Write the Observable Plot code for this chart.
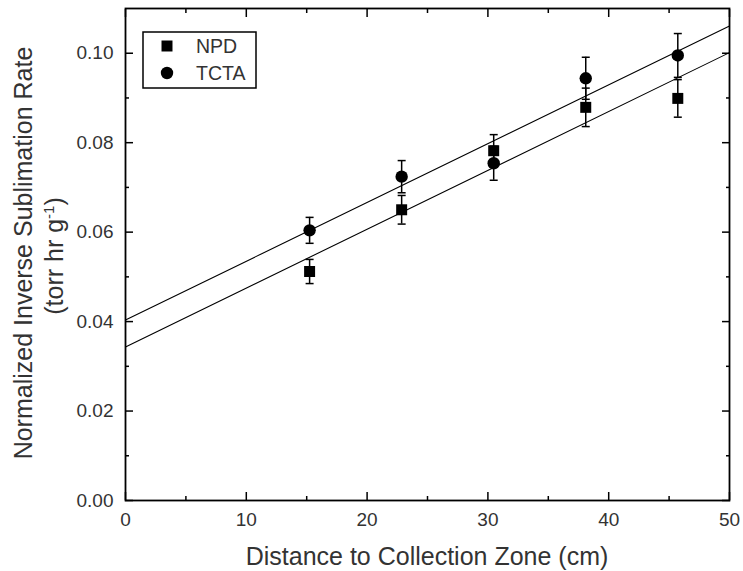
<!DOCTYPE html>
<html>
<head>
<meta charset="utf-8">
<script src="https://cdn.jsdelivr.net/npm/d3@7"></script>
<script src="https://cdn.jsdelivr.net/npm/@observablehq/plot@0.6"></script>
<style>
  html, body { margin: 0; padding: 0; background: #fff; }
  #chart { width: 743px; height: 571px; }
  svg { font-family: "Liberation Sans", Arial, sans-serif; }
</style>
</head>
<body>
<div id="chart"></div>
<script>
// ---- data ----
const distance = [15.24, 22.86, 30.48, 38.1, 45.72];          // cm
const npd      = [0.0512, 0.0650, 0.0782, 0.0879, 0.0899];
const npdErr   = [0.0027, 0.0032, 0.0036, 0.0043, 0.0042];
const tcta     = [0.0604, 0.0724, 0.0754, 0.0944, 0.0995];
const tctaErr  = [0.0029, 0.0036, 0.0038, 0.0047, 0.0049];
const seriesNames = ["NPD", "TCTA"];
const xMajorTicks = [0, 10, 20, 30, 40, 50];
const xMinorTicks = [5, 15, 25, 35, 45];
const yMajorTicks = [0, 0.02, 0.04, 0.06, 0.08, 0.10];
const yMinorTicks = [0.01, 0.03, 0.05, 0.07, 0.09];
const xLabel = "Distance to Collection Zone (cm)";
const yLabel1 = "Normalized Inverse Sublimation Rate";
const xDomain = [0, 50];
const yDomain = [0, 0.11];

// ---- build tables ----
const rows = [];
[[npd, npdErr, "NPD"], [tcta, tctaErr, "TCTA"]].forEach(([vals, errs, name]) => {
  vals.forEach((v, i) => rows.push({x: distance[i], y: v, lo: v - errs[i], hi: v + errs[i], s: name}));
});

// least-squares fit for each series, drawn over the full x range
function fit(xs, ys) {
  const mx = d3.mean(xs), my = d3.mean(ys);
  let sxy = 0, sxx = 0;
  xs.forEach((x, i) => { sxy += (x - mx) * (ys[i] - my); sxx += (x - mx) ** 2; });
  const m = sxy / sxx, b = my - m * mx;
  return xDomain.map(x => ({x, y: b + m * x}));
}
const fitRows = [
  ...fit(distance, npd).map(d => ({...d, s: "NPD"})),
  ...fit(distance, tcta).map(d => ({...d, s: "TCTA"}))
];

const capSymbol = {
  draw(ctx, size) {
    const r = Math.sqrt(size / Math.PI);
    ctx.moveTo(-r, 0);
    ctx.lineTo(r, 0);
  }
};

const fmt = d3.format(".2f");
const blank = () => "";
const tk = {tickFormat: blank, strokeWidth: 1.5, label: null};

const chart = Plot.plot({
  width: 743,
  height: 571,
  marginLeft: 125,
  marginRight: 14,
  marginTop: 8,
  marginBottom: 71,
  style: {fontFamily: "Liberation Sans, Arial, sans-serif", fontSize: "19px", color: "#000", background: "#fff"},
  x: {domain: xDomain},
  y: {domain: yDomain},
  marks: [
    // minor ticks (inward), all four sides
    Plot.axisX(xMinorTicks, {anchor: "bottom", tickSize: -4, ...tk}),
    Plot.axisX(xMinorTicks, {anchor: "top", tickSize: -4, ...tk}),
    Plot.axisY(yMinorTicks, {anchor: "left", tickSize: -4, ...tk}),
    Plot.axisY(yMinorTicks, {anchor: "right", tickSize: -4, ...tk}),
    // major ticks (inward)
    Plot.axisX(xMajorTicks, {anchor: "bottom", tickSize: -8, ...tk}),
    Plot.axisX(xMajorTicks, {anchor: "top", tickSize: -8, ...tk}),
    Plot.axisY(yMajorTicks, {anchor: "left", tickSize: -8, ...tk}),
    Plot.axisY(yMajorTicks, {anchor: "right", tickSize: -8, ...tk}),
    // tick labels
    Plot.axisX(xMajorTicks, {anchor: "bottom", tickSize: 0, tickPadding: 12, label: null, fill: "#333", fontSize: 19}),
    Plot.axisY(yMajorTicks, {anchor: "left", tickSize: 0, tickPadding: 12, tickFormat: fmt, label: null, fill: "#333", fontSize: 19}),
    Plot.frame({stroke: "#000", strokeWidth: 1.8}),
    // fit lines
    Plot.line(fitRows, {x: "x", y: "y", z: "s", stroke: "#000", strokeWidth: 1.1}),
    // error bars
    Plot.ruleX(rows, {x: "x", y1: "lo", y2: "hi", stroke: "#000", strokeWidth: 1.5}),
    Plot.dot(rows, {x: "x", y: "lo", symbol: capSymbol, r: 4, stroke: "#000", strokeWidth: 1.5}),
    Plot.dot(rows, {x: "x", y: "hi", symbol: capSymbol, r: 4, stroke: "#000", strokeWidth: 1.5}),
    // markers
    Plot.dot(rows.filter(d => d.s === "NPD"), {x: "x", y: "y", symbol: "square", r: 6.2, fill: "#000", stroke: null}),
    Plot.dot(rows.filter(d => d.s === "TCTA"), {x: "x", y: "y", symbol: "circle", r: 6.2, fill: "#000", stroke: null})
  ]
});

document.getElementById("chart").appendChild(chart);

// ---- axis titles and legend (real SVG text) ----
const svg = d3.select(chart);
svg.append("text")
  .attr("x", 427).attr("y", 565)
  .attr("text-anchor", "middle")
  .attr("fill", "#333")
  .style("font-size", "25px")
  .text(xLabel);

const yt = svg.append("g").attr("transform", "rotate(-90)").attr("fill", "#333").style("font-size", "25px");
yt.append("text").attr("x", -253).attr("y", 32).attr("text-anchor", "middle").text(yLabel1);
const t2 = yt.append("text").attr("x", -256).attr("y", 63).attr("text-anchor", "middle");
t2.append("tspan").text("(torr hr g");
t2.append("tspan").attr("dy", -9).style("font-size", "15px").text("-1");
t2.append("tspan").attr("dy", 9).text(")");

const lg = svg.append("g");
lg.append("rect").attr("x", 143).attr("y", 32).attr("width", 113).attr("height", 56)
  .attr("fill", "#fff").attr("stroke", "#000").attr("stroke-width", 1.5);
lg.append("path").attr("d", d3.symbol(d3.symbolSquare, Math.PI * 6.2 * 6.2)()).attr("transform", "translate(167,46)").attr("fill", "#000");
lg.append("path").attr("d", d3.symbol(d3.symbolCircle, Math.PI * 6.2 * 6.2)()).attr("transform", "translate(167,73)").attr("fill", "#000");
lg.append("text").attr("x", 196).attr("y", 53).attr("text-anchor", "start").attr("fill", "#333").style("font-size", "19.5px").text(seriesNames[0]);
lg.append("text").attr("x", 196).attr("y", 80).attr("text-anchor", "start").attr("fill", "#333").style("font-size", "19.5px").text(seriesNames[1]);
</script>
</body>
</html>
